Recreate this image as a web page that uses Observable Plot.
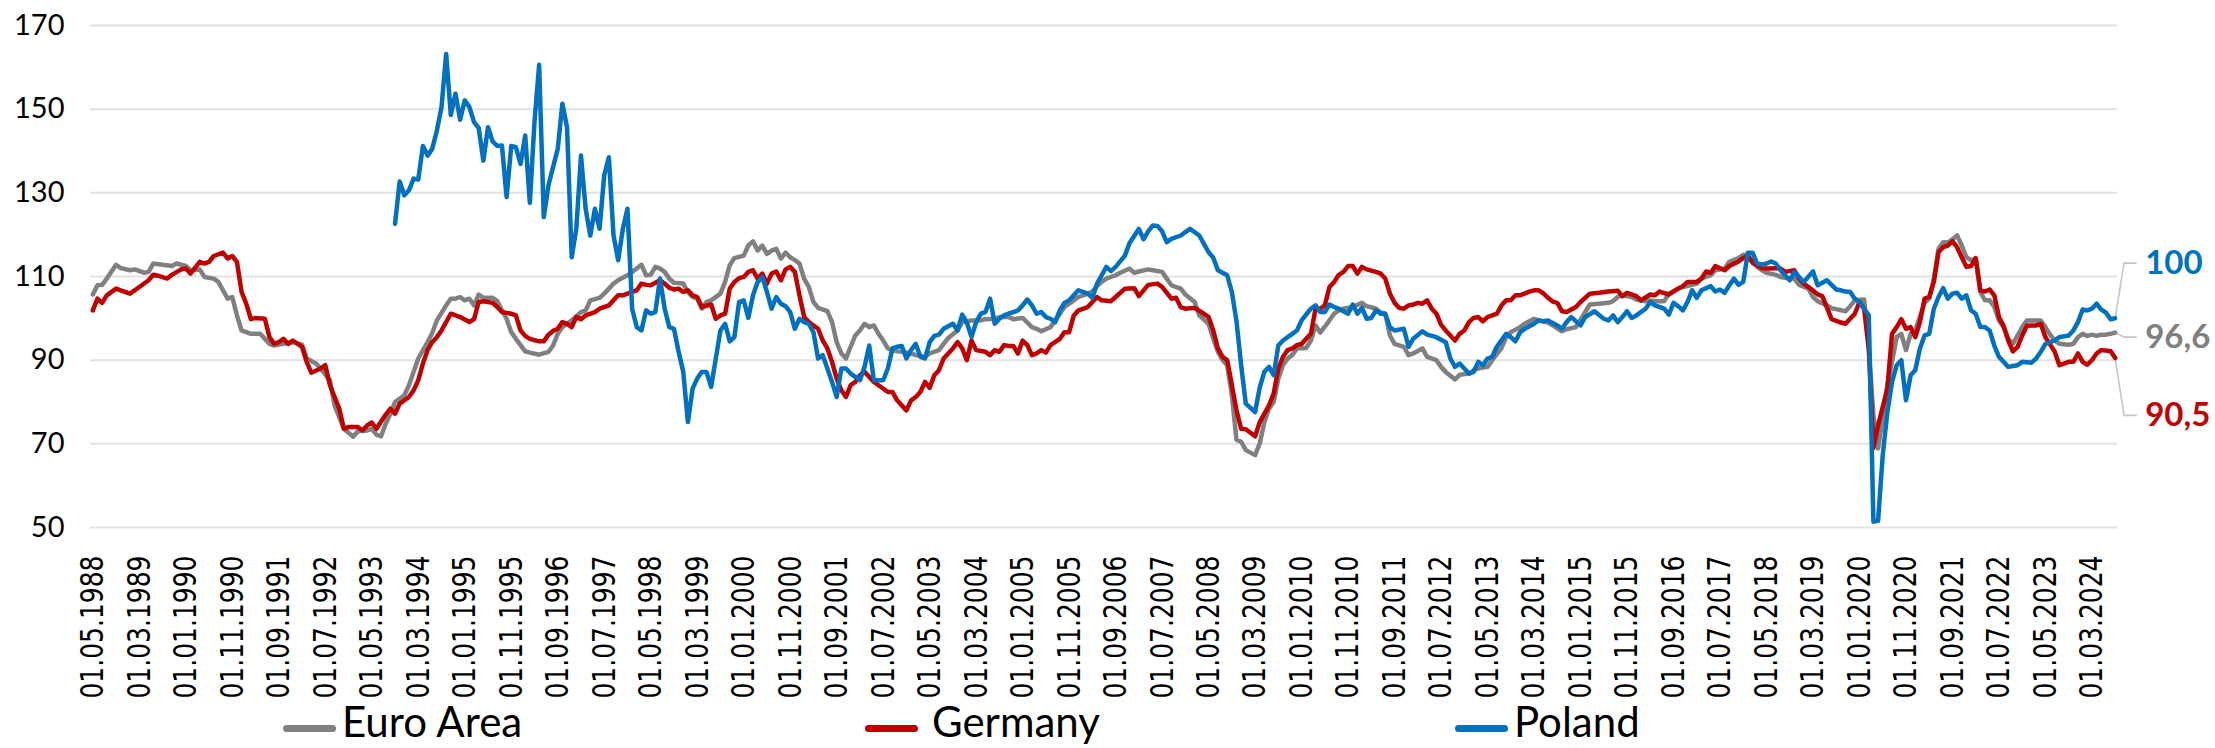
<!DOCTYPE html>
<html>
<head>
<meta charset="utf-8">
<script src="https://cdn.jsdelivr.net/npm/d3@7"></script>
<script src="https://cdn.jsdelivr.net/npm/@observablehq/plot@0.6"></script>
<style>
  html, body { margin: 0; padding: 0; background: #ffffff; overflow: hidden; }
  #wrap { position: relative; width: 2215px; height: 748px; }
  #legend { position: absolute; left: 0; top: 705px; width: 2215px; height: 43px; }
  .mk { position: absolute; top: 20px; width: 53px; height: 7px; border-radius: 4px; }
  .tx { position: absolute; top: -5px; font-family: Lato, "Liberation Sans", sans-serif; font-size: 42px; line-height: 42px; color: #000; white-space: nowrap; }
</style>
</head>
<body>
<div id="wrap">
  <div id="chart"></div>
  <div id="legend"></div>
</div>
<script>
// ---------- data ----------
const seriesNames = ["Euro Area", "Germany", "Poland"];
const seriesColors = ["#808080", "#C00000", "#0070C0"];

const tickLabels = ["01.05.1988","01.03.1989","01.01.1990","01.11.1990","01.09.1991","01.07.1992","01.05.1993","01.03.1994","01.01.1995","01.11.1995","01.09.1996","01.07.1997","01.05.1998","01.03.1999","01.01.2000","01.11.2000","01.09.2001","01.07.2002","01.05.2003","01.03.2004","01.01.2005","01.11.2005","01.09.2006","01.07.2007","01.05.2008","01.03.2009","01.01.2010","01.11.2010","01.09.2011","01.07.2012","01.05.2013","01.03.2014","01.01.2015","01.11.2015","01.09.2016","01.07.2017","01.05.2018","01.03.2019","01.01.2020","01.11.2020","01.09.2021","01.07.2022","01.05.2023","01.03.2024"];
const yTicks = [50, 70, 90, 110, 130, 150, 170];
const firstMonth = "1988-05";
const lastMonth = "2024-08";

const euroArea = [["1988-05",105.7],["1988-06",107.9],["1988-07",108.0],["1988-08",109.5],["1988-10",112.8],["1988-11",112.0],["1989-01",111.5],["1989-02",111.7],["1989-04",110.9],["1989-05",111.1],["1989-06",113.1],["1989-08",112.8],["1989-09",112.7],["1989-10",112.5],["1989-11",113.1],["1990-01",112.5],["1990-02",111.5],["1990-04",111.7],["1990-05",109.9],["1990-07",109.5],["1990-08",108.7],["1990-10",104.7],["1990-11",105.1],["1990-12",100.7],["1991-01",97.1],["1991-03",96.3],["1991-05",96.3],["1991-07",93.9],["1991-08",93.5],["1991-10",93.9],["1991-12",94.3],["1992-02",93.7],["1992-03",90.4],["1992-05",89.2],["1992-06",88.0],["1992-08",85.2],["1992-09",79.2],["1992-11",73.6],["1993-01",71.7],["1993-02",73.0],["1993-04",73.2],["1993-05",73.6],["1993-06",72.2],["1993-07",71.8],["1993-08",74.8],["1993-09",77.2],["1993-10",80.0],["1993-12",81.6],["1994-01",84.0],["1994-02",87.2],["1994-03",90.4],["1994-05",94.3],["1994-06",96.5],["1994-07",99.5],["1994-09",103.1],["1994-10",104.7],["1994-11",104.7],["1994-12",105.1],["1995-01",104.3],["1995-02",104.7],["1995-03",103.1],["1995-04",105.7],["1995-05",104.9],["1995-07",104.9],["1995-08",104.1],["1995-09",101.9],["1995-10",99.9],["1995-11",96.7],["1995-12",95.1],["1996-02",92.1],["1996-03",91.8],["1996-05",91.3],["1996-07",92.0],["1996-08",93.5],["1996-09",96.3],["1996-10",97.9],["1996-12",99.5],["1997-02",101.5],["1997-03",101.9],["1997-04",104.3],["1997-06",104.9],["1997-07",105.9],["1997-09",108.3],["1997-10",109.1],["1997-12",110.3],["1998-01",111.1],["1998-02",111.9],["1998-03",112.8],["1998-04",110.3],["1998-05",110.4],["1998-06",112.3],["1998-07",111.9],["1998-08",111.1],["1998-09",109.5],["1998-10",108.5],["1998-12",108.3],["1999-01",106.3],["1999-02",105.1],["1999-03",104.7],["1999-04",102.3],["1999-05",103.9],["1999-06",104.3],["1999-08",105.9],["1999-09",108.7],["1999-10",112.7],["1999-11",114.4],["2000-01",115.0],["2000-02",117.4],["2000-03",118.4],["2000-04",116.2],["2000-05",117.4],["2000-06",115.4],["2000-07",116.2],["2000-08",116.6],["2000-09",114.3],["2000-10",115.7],["2000-11",114.6],["2000-12",113.9],["2001-01",113.1],["2001-02",109.5],["2001-03",107.5],["2001-04",103.9],["2001-05",102.5],["2001-07",101.7],["2001-08",99.1],["2001-09",94.3],["2001-10",91.6],["2001-11",90.4],["2001-12",93.2],["2002-01",95.9],["2002-02",97.1],["2002-03",98.7],["2002-04",97.9],["2002-05",98.3],["2002-06",96.3],["2002-07",94.7],["2002-08",92.8],["2002-09",92.4],["2002-10",92.1],["2002-11",92.0],["2003-01",91.6],["2003-02",91.2],["2003-04",90.8],["2003-05",91.6],["2003-07",92.4],["2003-08",93.9],["2003-09",95.3],["2003-11",97.1],["2003-12",99.1],["2004-02",99.5],["2004-04",99.5],["2004-05",99.8],["2004-07",99.9],["2004-08",100.3],["2004-10",100.3],["2004-11",99.8],["2005-01",100.1],["2005-02",99.0],["2005-03",97.9],["2005-04",97.5],["2005-05",96.9],["2005-07",97.9],["2005-08",99.5],["2005-09",101.1],["2005-10",102.7],["2005-11",103.5],["2005-12",104.3],["2006-01",105.1],["2006-02",105.5],["2006-04",106.4],["2006-05",107.7],["2006-06",108.7],["2006-07",109.5],["2006-09",110.3],["2006-10",110.9],["2006-12",111.9],["2007-01",110.9],["2007-02",111.2],["2007-04",111.7],["2007-05",111.5],["2007-07",111.1],["2007-08",109.5],["2007-09",107.9],["2007-11",107.1],["2007-12",105.7],["2008-02",103.9],["2008-03",100.7],["2008-05",98.7],["2008-06",95.1],["2008-07",92.0],["2008-08",90.0],["2008-09",88.8],["2008-10",81.6],["2008-11",71.0],["2008-12",70.5],["2009-01",68.5],["2009-03",67.3],["2009-04",70.1],["2009-05",75.2],["2009-06",78.4],["2009-07",80.0],["2009-08",85.6],["2009-09",88.8],["2009-10",90.4],["2009-11",91.2],["2009-12",92.8],["2010-02",92.9],["2010-03",94.7],["2010-04",98.3],["2010-05",96.6],["2010-06",98.0],["2010-08",101.1],["2010-09",101.9],["2010-10",102.3],["2010-12",102.7],["2011-02",103.7],["2011-03",102.9],["2011-05",102.3],["2011-06",101.4],["2011-07",101.1],["2011-08",95.9],["2011-09",93.9],["2011-11",93.2],["2011-12",91.2],["2012-01",91.6],["2012-03",92.8],["2012-04",90.8],["2012-06",90.0],["2012-07",88.4],["2012-08",87.2],["2012-10",85.4],["2012-11",86.5],["2013-01",86.8],["2013-02",87.6],["2013-03",88.0],["2013-05",88.4],["2013-06",90.0],["2013-08",92.9],["2013-09",95.5],["2013-10",96.7],["2013-12",97.9],["2014-01",98.7],["2014-03",99.9],["2014-04",99.5],["2014-06",99.0],["2014-07",98.3],["2014-09",96.9],["2014-10",97.4],["2014-12",97.9],["2015-02",101.5],["2015-03",103.3],["2015-05",103.5],["2015-07",103.7],["2015-08",104.1],["2015-09",105.1],["2015-10",105.5],["2015-12",105.1],["2016-01",104.5],["2016-03",104.1],["2016-04",104.3],["2016-05",104.1],["2016-07",104.1],["2016-08",105.9],["2016-10",107.1],["2016-11",107.5],["2017-01",108.0],["2017-02",108.3],["2017-03",109.5],["2017-05",110.3],["2017-06",111.5],["2017-08",111.9],["2017-09",113.5],["2017-11",114.4],["2017-12",115.2],["2018-01",114.9],["2018-03",112.3],["2018-04",111.5],["2018-05",110.9],["2018-07",110.4],["2018-08",109.9],["2018-10",109.5],["2018-11",109.5],["2018-12",108.0],["2019-02",107.1],["2019-03",105.1],["2019-04",104.1],["2019-06",103.1],["2019-07",102.4],["2019-08",102.2],["2019-10",101.7],["2019-11",102.9],["2019-12",104.3],["2020-02",104.5],["2020-03",92.8],["2020-04",76.8],["2020-05",68.9],["2020-07",84.0],["2020-08",89.6],["2020-09",95.5],["2020-10",96.3],["2020-11",92.4],["2020-12",96.3],["2021-01",97.1],["2021-03",103.7],["2021-04",104.7],["2021-05",109.5],["2021-06",116.6],["2021-07",118.2],["2021-08",118.1],["2021-09",118.9],["2021-10",119.8],["2021-11",117.4],["2021-12",114.6],["2022-01",113.9],["2022-02",114.3],["2022-03",106.3],["2022-04",104.3],["2022-05",104.3],["2022-06",102.7],["2022-07",99.5],["2022-08",97.9],["2022-09",95.1],["2022-10",93.9],["2022-11",95.9],["2022-12",97.9],["2023-01",99.5],["2023-02",99.5],["2023-04",99.5],["2023-05",97.9],["2023-06",96.1],["2023-07",94.7],["2023-08",93.9],["2023-10",93.7],["2023-11",93.9],["2023-12",95.5],["2024-01",96.3],["2024-02",95.8],["2024-03",96.1],["2024-04",95.8],["2024-05",96.1],["2024-06",96.1],["2024-07",96.3],["2024-08",96.6]];

const germany = [["1988-05",101.9],["1988-06",104.7],["1988-07",103.7],["1988-08",105.5],["1988-10",107.1],["1988-11",106.7],["1989-01",105.9],["1989-03",107.5],["1989-05",109.1],["1989-06",110.4],["1989-07",110.2],["1989-09",109.5],["1989-10",110.4],["1989-12",111.7],["1990-01",111.9],["1990-02",110.7],["1990-04",113.5],["1990-05",113.1],["1990-06",113.5],["1990-07",114.9],["1990-09",115.7],["1990-10",114.3],["1990-11",114.9],["1990-12",113.5],["1991-01",106.3],["1991-02",103.5],["1991-03",99.8],["1991-04",100.1],["1991-06",99.9],["1991-07",95.5],["1991-08",93.9],["1991-09",94.3],["1991-10",95.1],["1991-11",93.9],["1991-12",94.7],["1992-02",93.2],["1992-03",89.6],["1992-04",87.0],["1992-06",88.0],["1992-07",88.8],["1992-08",84.0],["1992-10",78.4],["1992-11",73.6],["1992-12",74.0],["1993-02",74.0],["1993-03",73.2],["1993-04",74.4],["1993-05",75.1],["1993-06",73.6],["1993-08",77.0],["1993-09",78.4],["1993-10",77.2],["1993-11",79.6],["1994-01",81.2],["1994-02",82.8],["1994-03",85.2],["1994-04",89.2],["1994-05",92.4],["1994-06",94.3],["1994-07",95.5],["1994-08",97.1],["1994-10",101.1],["1994-11",100.7],["1994-12",100.3],["1995-02",99.1],["1995-03",99.8],["1995-04",103.9],["1995-05",104.1],["1995-06",103.9],["1995-07",103.7],["1995-08",102.7],["1995-09",101.5],["1995-10",101.3],["1995-11",101.1],["1995-12",100.7],["1996-01",97.1],["1996-02",95.8],["1996-03",95.1],["1996-04",94.8],["1996-05",94.5],["1996-06",94.5],["1996-07",96.1],["1996-08",97.0],["1996-09",97.5],["1996-10",99.1],["1996-11",98.7],["1996-12",97.9],["1997-01",100.3],["1997-02",99.8],["1997-03",100.7],["1997-05",101.5],["1997-06",102.3],["1997-08",103.1],["1997-09",104.3],["1997-10",105.5],["1997-11",105.5],["1998-01",106.3],["1998-02",106.7],["1998-03",108.3],["1998-04",108.0],["1998-05",107.9],["1998-07",109.1],["1998-08",108.3],["1998-09",107.3],["1998-10",106.9],["1998-11",107.1],["1998-12",106.3],["1999-01",106.7],["1999-02",105.5],["1999-03",105.1],["1999-04",102.7],["1999-06",103.3],["1999-07",99.9],["1999-08",100.7],["1999-09",101.1],["1999-10",107.1],["1999-11",108.7],["1999-12",109.6],["2000-01",109.9],["2000-02",111.1],["2000-03",111.5],["2000-04",109.5],["2000-05",110.7],["2000-06",108.3],["2000-07",110.7],["2000-08",111.2],["2000-09",109.1],["2000-10",111.7],["2000-11",112.3],["2000-12",111.1],["2001-01",105.5],["2001-02",100.3],["2001-03",99.1],["2001-05",97.5],["2001-06",94.7],["2001-07",92.8],["2001-08",89.6],["2001-09",85.6],["2001-10",82.8],["2001-11",81.2],["2001-12",84.0],["2002-01",84.8],["2002-02",86.4],["2002-03",87.2],["2002-04",86.0],["2002-05",84.8],["2002-06",84.0],["2002-08",82.4],["2002-09",82.4],["2002-10",80.4],["2002-11",79.2],["2002-12",78.0],["2003-01",80.4],["2003-02",81.2],["2003-03",82.4],["2003-04",84.8],["2003-05",83.4],["2003-06",86.4],["2003-07",87.6],["2003-08",90.4],["2003-09",91.6],["2003-10",92.8],["2003-11",94.3],["2003-12",92.8],["2004-01",90.0],["2004-02",94.7],["2004-03",92.4],["2004-05",92.0],["2004-06",91.2],["2004-07",92.4],["2004-08",92.0],["2004-09",93.6],["2004-10",93.4],["2004-11",93.4],["2004-12",91.6],["2005-01",94.7],["2005-02",93.6],["2005-03",91.2],["2005-04",91.6],["2005-05",92.4],["2005-06",91.8],["2005-07",93.6],["2005-09",95.1],["2005-10",96.7],["2005-11",96.7],["2005-12",100.7],["2006-01",101.9],["2006-03",102.7],["2006-04",103.9],["2006-05",105.1],["2006-06",104.3],["2006-08",104.1],["2006-09",105.1],["2006-11",107.1],["2007-01",107.2],["2007-02",105.3],["2007-04",108.0],["2007-06",108.3],["2007-07",107.5],["2007-09",104.7],["2007-10",104.9],["2007-11",102.7],["2007-12",102.3],["2008-02",102.5],["2008-04",101.1],["2008-05",100.3],["2008-06",97.1],["2008-07",92.8],["2008-08",90.8],["2008-09",90.0],["2008-10",84.0],["2008-11",78.0],["2008-12",73.6],["2009-01",73.5],["2009-03",71.8],["2009-04",75.2],["2009-06",79.2],["2009-07",82.0],["2009-08",88.0],["2009-09",90.8],["2009-10",92.4],["2009-11",92.8],["2009-12",93.6],["2010-01",93.9],["2010-03",96.3],["2010-04",102.3],["2010-05",102.3],["2010-06",103.1],["2010-07",107.5],["2010-08",108.7],["2010-09",110.4],["2010-10",111.1],["2010-11",112.5],["2010-12",112.5],["2011-01",110.7],["2011-02",112.3],["2011-03",111.7],["2011-05",111.1],["2011-06",110.7],["2011-07",109.5],["2011-08",105.9],["2011-09",103.7],["2011-10",102.5],["2011-11",102.3],["2011-12",103.1],["2012-01",103.3],["2012-02",103.7],["2012-03",103.5],["2012-04",104.3],["2012-05",102.3],["2012-06",101.1],["2012-07",98.5],["2012-08",97.1],["2012-10",94.7],["2012-11",96.3],["2012-12",97.1],["2013-01",99.1],["2013-02",100.1],["2013-03",100.3],["2013-04",99.3],["2013-05",100.3],["2013-07",101.1],["2013-08",103.1],["2013-09",104.3],["2013-10",104.3],["2013-11",105.5],["2013-12",105.5],["2014-02",106.4],["2014-03",106.7],["2014-04",106.7],["2014-05",106.0],["2014-06",104.9],["2014-07",104.0],["2014-08",103.7],["2014-09",101.7],["2014-10",101.5],["2014-12",102.7],["2015-01",103.9],["2015-03",105.9],["2015-05",106.1],["2015-07",106.4],["2015-09",106.6],["2015-10",105.3],["2015-11",106.1],["2016-01",105.3],["2016-02",104.3],["2016-04",105.7],["2016-05",105.5],["2016-06",106.4],["2016-08",105.7],["2016-10",107.1],["2016-11",107.7],["2016-12",108.7],["2017-02",108.7],["2017-03",109.5],["2017-04",111.2],["2017-05",110.9],["2017-06",112.5],["2017-08",111.5],["2017-09",112.5],["2017-11",113.6],["2017-12",114.4],["2018-01",115.0],["2018-02",113.3],["2018-04",112.0],["2018-05",111.9],["2018-07",112.0],["2018-08",111.9],["2018-09",111.1],["2018-11",111.5],["2018-12",109.5],["2019-01",108.3],["2019-03",106.7],["2019-04",105.7],["2019-05",105.3],["2019-07",99.8],["2019-08",99.4],["2019-09",99.0],["2019-10",98.7],["2019-11",99.9],["2019-12",101.1],["2020-01",103.9],["2020-02",102.3],["2020-03",92.8],["2020-04",69.0],["2020-05",74.4],["2020-07",83.2],["2020-08",96.3],["2020-09",97.9],["2020-10",99.8],["2020-11",97.5],["2020-12",97.9],["2021-01",95.5],["2021-02",99.1],["2021-03",104.7],["2021-04",105.1],["2021-05",108.7],["2021-06",115.8],["2021-07",117.0],["2021-08",117.4],["2021-09",118.4],["2021-10",117.0],["2021-11",114.6],["2021-12",112.3],["2022-01",112.5],["2022-02",114.4],["2022-03",106.7],["2022-04",106.4],["2022-05",106.9],["2022-06",105.5],["2022-07",100.3],["2022-08",98.2],["2022-09",94.7],["2022-10",92.1],["2022-11",93.2],["2022-12",95.9],["2023-01",98.2],["2023-02",98.3],["2023-03",98.3],["2023-04",98.7],["2023-05",95.5],["2023-07",92.0],["2023-08",88.8],["2023-09",89.2],["2023-10",89.6],["2023-11",89.6],["2023-12",91.6],["2024-01",89.6],["2024-02",88.9],["2024-03",90.0],["2024-04",91.6],["2024-05",92.4],["2024-07",92.2],["2024-08",90.5]];

const poland = [["1993-10",122.6],["1993-11",132.7],["1993-12",129.4],["1994-01",130.6],["1994-02",133.4],["1994-03",133.2],["1994-04",141.2],["1994-05",138.9],["1994-06",140.5],["1994-07",144.9],["1994-08",150.5],["1994-09",163.2],["1994-10",148.6],["1994-11",153.7],["1994-12",147.5],["1995-01",152.1],["1995-02",150.5],["1995-03",146.9],["1995-04",145.5],["1995-05",137.7],["1995-06",145.7],["1995-07",142.3],["1995-08",141.2],["1995-09",141.3],["1995-10",129.0],["1995-11",141.2],["1995-12",140.9],["1996-01",136.9],["1996-02",143.7],["1996-03",127.6],["1996-04",146.9],["1996-05",160.6],["1996-06",124.2],["1996-07",131.8],["1996-09",140.5],["1996-10",151.3],["1996-11",145.7],["1996-12",114.6],["1997-01",121.4],["1997-02",138.9],["1997-03",126.2],["1997-04",119.8],["1997-05",126.2],["1997-06",121.4],["1997-07",134.2],["1997-08",138.5],["1997-09",119.8],["1997-10",113.9],["1997-11",121.4],["1997-12",126.2],["1998-01",102.3],["1998-02",97.9],["1998-03",97.1],["1998-04",101.9],["1998-05",101.1],["1998-06",101.5],["1998-07",109.5],["1998-08",102.3],["1998-09",97.9],["1998-10",97.5],["1998-11",92.0],["1998-12",87.2],["1999-01",75.2],["1999-02",83.2],["1999-03",85.6],["1999-04",87.2],["1999-05",87.2],["1999-06",83.6],["1999-07",90.4],["1999-08",97.1],["1999-09",98.7],["1999-10",94.5],["1999-11",95.5],["1999-12",103.9],["2000-01",104.3],["2000-02",100.1],["2000-03",105.5],["2000-04",108.7],["2000-05",109.9],["2000-06",106.3],["2000-07",102.3],["2000-08",105.1],["2000-09",103.5],["2000-10",102.9],["2000-11",101.5],["2000-12",97.5],["2001-01",99.9],["2001-02",99.1],["2001-03",98.7],["2001-04",96.7],["2001-05",90.4],["2001-06",91.2],["2001-07",88.0],["2001-08",84.8],["2001-09",81.2],["2001-10",88.0],["2001-11",88.0],["2001-12",86.8],["2002-01",86.0],["2002-02",85.2],["2002-03",88.4],["2002-04",93.5],["2002-05",85.2],["2002-07",85.2],["2002-08",88.0],["2002-09",92.8],["2002-10",93.2],["2002-11",93.4],["2002-12",90.4],["2003-01",92.4],["2003-02",93.9],["2003-03",90.8],["2003-04",90.4],["2003-05",94.3],["2003-06",95.8],["2003-07",96.1],["2003-08",97.5],["2003-10",98.7],["2003-11",97.1],["2003-12",100.9],["2004-01",99.0],["2004-02",95.5],["2004-03",99.1],["2004-04",101.1],["2004-05",101.5],["2004-06",104.7],["2004-07",98.7],["2004-08",99.9],["2004-09",100.7],["2004-10",101.1],["2004-11",101.5],["2004-12",101.9],["2005-01",103.1],["2005-02",104.5],["2005-03",103.1],["2005-04",101.1],["2005-05",101.5],["2005-06",100.3],["2005-07",99.9],["2005-08",99.1],["2005-09",101.9],["2005-10",103.7],["2005-11",104.3],["2006-01",106.7],["2006-02",106.3],["2006-03",105.9],["2006-04",104.9],["2006-05",108.3],["2006-07",112.3],["2006-08",111.3],["2006-09",112.3],["2006-11",115.0],["2006-12",118.0],["2007-01",119.7],["2007-02",121.4],["2007-03",118.9],["2007-04",120.8],["2007-05",122.2],["2007-06",122.1],["2007-07",120.8],["2007-08",118.2],["2007-09",119.0],["2007-11",119.8],["2007-12",120.6],["2008-01",121.4],["2008-03",119.8],["2008-04",117.8],["2008-05",115.8],["2008-06",114.5],["2008-07",111.5],["2008-09",110.3],["2008-10",106.3],["2008-11",99.3],["2008-12",88.8],["2009-01",79.6],["2009-03",77.6],["2009-04",83.5],["2009-05",87.2],["2009-06",88.4],["2009-07",86.4],["2009-08",93.5],["2009-09",94.7],["2009-10",95.5],["2009-11",96.3],["2009-12",97.1],["2010-01",99.5],["2010-03",102.3],["2010-04",103.1],["2010-05",101.5],["2010-06",101.5],["2010-07",103.3],["2010-08",102.7],["2010-09",102.3],["2010-11",101.1],["2010-12",103.3],["2011-01",101.1],["2011-02",102.5],["2011-03",99.9],["2011-04",100.1],["2011-05",101.9],["2011-06",101.1],["2011-07",101.1],["2011-08",97.9],["2011-09",97.1],["2011-11",97.5],["2011-12",93.2],["2012-01",95.1],["2012-03",96.9],["2012-04",96.1],["2012-06",95.5],["2012-08",94.3],["2012-09",90.4],["2012-10",88.4],["2012-11",89.2],["2013-01",86.8],["2013-02",87.2],["2013-03",89.6],["2013-04",88.8],["2013-05",90.4],["2013-06",90.8],["2013-07",93.2],["2013-09",96.3],["2013-10",95.5],["2013-11",94.5],["2013-12",96.7],["2014-01",97.5],["2014-03",98.7],["2014-04",99.5],["2014-05",99.3],["2014-06",99.5],["2014-08",98.3],["2014-09",97.5],["2014-10",99.1],["2014-11",100.3],["2015-01",98.3],["2015-02",100.3],["2015-04",101.7],["2015-06",99.9],["2015-07",99.5],["2015-08",100.7],["2015-09",99.1],["2015-10",100.3],["2015-11",101.7],["2015-12",100.1],["2016-01",100.7],["2016-03",102.3],["2016-04",103.9],["2016-05",103.1],["2016-07",102.3],["2016-08",100.9],["2016-09",103.7],["2016-10",102.9],["2016-11",101.9],["2016-12",103.9],["2017-01",106.7],["2017-02",104.9],["2017-03",106.7],["2017-05",107.7],["2017-06",106.4],["2017-07",106.9],["2017-08",106.1],["2017-09",107.9],["2017-10",109.5],["2017-11",108.0],["2017-12",108.7],["2018-01",115.7],["2018-02",115.7],["2018-03",113.1],["2018-04",112.8],["2018-05",113.1],["2018-06",113.6],["2018-07",113.1],["2018-08",111.5],["2018-10",109.1],["2018-11",111.1],["2018-12",109.9],["2019-01",108.7],["2019-03",111.2],["2019-04",107.9],["2019-06",109.1],["2019-07",108.0],["2019-08",106.9],["2019-09",106.7],["2019-10",106.4],["2019-11",106.3],["2019-12",104.7],["2020-01",103.9],["2020-02",102.3],["2020-03",100.7],["2020-04",51.4],["2020-05",51.6],["2020-06",67.3],["2020-07",77.6],["2020-08",84.8],["2020-09",88.8],["2020-10",90.0],["2020-11",80.4],["2020-12",86.4],["2021-01",87.6],["2021-02",92.8],["2021-03",95.9],["2021-04",96.3],["2021-05",102.3],["2021-06",105.1],["2021-07",107.2],["2021-08",104.7],["2021-09",105.9],["2021-10",106.1],["2021-11",104.7],["2021-12",105.5],["2022-01",101.9],["2022-02",101.1],["2022-03",97.9],["2022-04",97.9],["2022-05",97.1],["2022-06",93.5],["2022-07",90.8],["2022-09",88.4],["2022-10",88.6],["2022-11",88.8],["2022-12",89.6],["2023-02",89.4],["2023-03",90.4],["2023-04",92.0],["2023-05",93.9],["2023-07",94.7],["2023-08",95.5],["2023-10",95.9],["2023-11",97.1],["2023-12",99.1],["2024-01",102.1],["2024-02",101.9],["2024-03",102.3],["2024-04",103.5],["2024-05",102.1],["2024-06",101.4],["2024-07",99.8],["2024-08",100.0]];

// where the end-of-series value labels sit (in y units)
const endLabelY = {"Euro Area": 95.5, "Germany": 76.8, "Poland": 113.2};

// ---------- helpers ----------
const [y0, m0] = firstMonth.split("-").map(Number);
const monthIndex = (y, m) => (y - y0) * 12 + (m - m0);
const fromYM = s => { const [y, m] = s.split("-").map(Number); return monthIndex(y, m); };
const fromLabel = s => { const [, m, y] = s.split(".").map(Number); return monthIndex(y, m); };
const nMonths = fromYM(lastMonth) + 1;

const rawSeries = [euroArea, germany, poland];
const rows = rawSeries.flatMap((arr, k) => arr.map(([d, v]) => ({series: seriesNames[k], i: fromYM(d), v})));

const tickIdx = tickLabels.map(fromLabel);
const labelByIdx = new Map(tickIdx.map((t, k) => [t, tickLabels[k]]));

const fmt = v => Number.isInteger(v) ? String(v) : v.toFixed(1).replace(".", ",");
const ends = seriesNames.map((name, k) => {
  const arr = rawSeries[k];
  const last = arr[arr.length - 1];
  return {series: name, i: fromYM(last[0]), v: last[1], ly: endLabelY[name], text: fmt(last[1]), color: seriesColors[k]};
});
const leaders = ends.flatMap(e => [
  {series: e.series, x: e.i, y: e.v},
  {series: e.series, x: e.i + 1.9, y: e.ly},
  {series: e.series, x: e.i + 4.5, y: e.ly}
]);

const chart = Plot.plot({
  width: 2215,
  height: 705,
  marginTop: 25,
  marginBottom: 178,
  marginLeft: 90,
  marginRight: 98,
  style: {background: "#ffffff", color: "#000000", overflow: "visible"},
  x: {type: "linear", domain: [-0.5, nMonths - 0.5]},
  y: {domain: [50, 170]},
  color: {domain: seriesNames, range: seriesColors},
  marks: [
    Plot.gridY(yTicks, {stroke: "#e2e2e2", strokeOpacity: 1, strokeWidth: 2}),
    Plot.axisY(yTicks, {tickSize: 0, tickPadding: 26, fontSize: 29, fontFamily: "Lato, 'Liberation Sans', sans-serif"}),
    Plot.axisX(tickIdx, {tickSize: 0, tickPadding: 28, tickRotate: -90, fontSize: 25, fontFamily: "'DejaVu Sans', sans-serif", tickFormat: d => labelByIdx.get(d)}),
    Plot.line(leaders, {x: "x", y: "y", z: "series", stroke: "#c4c4c4", strokeWidth: 1.6}),
    Plot.line(rows, {x: "i", y: "v", z: "series", stroke: "series", strokeWidth: 4.5, strokeLinejoin: "round", strokeLinecap: "round"}),
    Plot.text(ends, {x: "i", y: "ly", text: "text", fill: "color", dx: 30, textAnchor: "start", fontSize: 33, fontWeight: "bold", fontFamily: "Lato, 'Liberation Sans', sans-serif"})
  ]
});
document.getElementById("chart").appendChild(chart);

// widen the rotated date labels across the axis, as in the original
d3.select(chart).selectAll('g[aria-label="x-axis tick label"] text').each(function () {
  const t = this.getAttribute("transform") || "";
  this.setAttribute("transform", t + " scale(1,1.3)");
});

// ---------- legend ----------
const legendPos = [[283, 342], [865, 932], [1455, 1514]];
const legend = document.getElementById("legend");
seriesNames.forEach((name, k) => {
  const mk = document.createElement("div");
  mk.className = "mk";
  mk.style.left = legendPos[k][0] + "px";
  mk.style.background = seriesColors[k];
  const tx = document.createElement("div");
  tx.className = "tx";
  tx.style.left = legendPos[k][1] + "px";
  tx.textContent = name;
  legend.appendChild(mk);
  legend.appendChild(tx);
});
</script>
</body>
</html>
